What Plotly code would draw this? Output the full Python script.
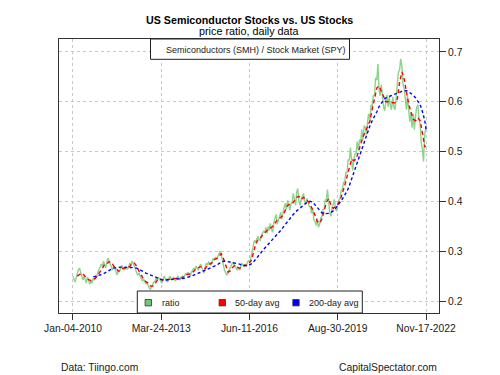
import pandas as pd
import plotly.graph_objects as go

# ---------------- data ----------------
ratio_2010 = [.250, .244, .238, .246, .256, .262, .266, .258, .248, .242, .250, .244,
              .236, .248, .242, .234, .240, .236, .246, .242, .252, .248, .258, .262]
ratio_2011 = [.268, .274, .270, .280, .272, .266, .278, .286, .280, .276, .268, .262,
              .272, .266, .258, .252, .262, .258, .266, .272, .266, .262, .268, .264]
ratio_2012 = [.264, .270, .276, .272, .280, .276, .270, .266, .258, .252, .256, .250,
              .246, .240, .244, .238, .234, .238, .230, .226, .224, .230, .234, .238]
ratio_2013 = [.240, .246, .242, .248, .244, .240, .236, .242, .250, .246, .242, .238,
              .244, .250, .246, .242, .248, .244, .240, .246, .250, .246, .242, .248]
ratio_2014 = [.250, .246, .252, .256, .252, .258, .254, .250, .258, .262, .266, .262,
              .270, .266, .262, .270, .274, .268, .262, .256, .270, .276, .272, .278]
ratio_2015 = [.276, .272, .280, .286, .282, .288, .284, .290, .296, .300, .292, .282,
              .272, .262, .256, .252, .258, .262, .266, .272, .278, .274, .270, .266]
ratio_2016 = [.262, .268, .262, .270, .276, .272, .268, .274, .270, .278, .282, .276,
              .290, .302, .312, .322, .318, .326, .330, .324, .322, .332, .336, .340]
ratio_2017 = [.338, .348, .336, .350, .342, .356, .344, .338, .358, .368, .374, .354,
              .364, .372, .378, .364, .380, .388, .396, .384, .402, .390, .382, .396]
ratio_2018 = [.398, .416, .400, .392, .418, .426, .400, .392, .404, .412, .416, .400,
              .394, .406, .396, .390, .388, .376, .386, .364, .360, .352, .366, .348]
ratio_2019 = [.354, .366, .370, .384, .384, .402, .404, .424, .400, .378, .370, .388,
              .394, .404, .386, .380, .398, .404, .408, .422, .424, .438, .440, .458]
ratio_2020 = [.458, .484, .482, .508, .478, .462, .484, .496, .496, .520, .502, .524,
              .520, .544, .524, .552, .548, .534, .562, .576, .560, .594, .590, .612]
ratio_2021 = [.614, .648, .644, .676, .626, .612, .634, .606, .590, .582, .606, .614,
              .590, .610, .592, .584, .610, .590, .584, .612, .630, .660, .664, .686]
ratio_2022 = [.670, .634, .626, .604, .584, .612, .578, .560, .580, .548, .576, .544,
              .572, .588, .594, .566, .552, .518, .504, .480, .536, .550]

avg50_2010 = [.250, .254, .256, .252, .246, .243, .241, .243, .246, .252]   # Mar..Dec
avg50_2011 = [.258, .266, .274, .275, .279, .278, .270, .266, .260, .262, .266, .266]
avg50_2012 = [.266, .270, .275, .276, .270, .260, .251, .244, .239, .236, .230, .230]
avg50_2013 = [.235, .242, .245, .242, .243, .244, .243, .245, .245, .245, .245, .246]
avg50_2014 = [.247, .250, .253, .254, .255, .260, .265, .267, .269, .266, .265, .272]
avg50_2015 = [.275, .277, .283, .285, .290, .295, .285, .270, .258, .261, .268, .272]
avg50_2016 = [.268, .266, .268, .272, .272, .276, .280, .296, .314, .323, .326, .332]
avg50_2017 = [.337, .342, .346, .348, .352, .360, .364, .368, .372, .382, .392, .394]
avg50_2018 = [.395, .402, .408, .410, .404, .408, .404, .400, .393, .384, .372, .360]
avg50_2019 = [.356, .365, .380, .398, .406, .392, .386, .390, .394, .402, .416, .432]
avg50_2020 = [.450, .470, .485, .482, .485, .500, .515, .530, .540, .552, .562, .585]
avg50_2021 = [.605, .628, .632, .620, .608, .600, .600, .600, .598, .598, .606, .640]
avg50_2022 = [.660, .645, .620, .595, .580, .565, .562, .568, .562, .535, .510, .510]  # Jan..Nov + end

avg200_2010 = [.249, .249, .251]   # Oct..Dec
avg200_2011 = [.252, .254, .256, .259, .262, .264, .266, .267, .268, .268, .268, .268]
avg200_2012 = [.268, .268, .268, .267, .266, .264, .262, .259, .256, .254, .252, .250]
avg200_2013 = [.248, .246, .244, .243, .242, .242, .242, .243, .244, .244, .244, .245]
avg200_2014 = [.245, .246, .247, .248, .250, .252, .254, .256, .258, .260, .261, .263]
avg200_2015 = [.265, .267, .270, .272, .275, .278, .280, .280, .279, .278, .278, .277]
avg200_2016 = [.276, .274, .272, .271, .271, .272, .274, .278, .283, .289, .295, .301]
avg200_2017 = [.306, .311, .316, .321, .326, .331, .336, .342, .348, .354, .360, .366]
avg200_2018 = [.372, .377, .381, .385, .389, .393, .397, .400, .400, .398, .393, .387]
avg200_2019 = [.381, .377, .375, .375, .376, .378, .381, .386, .392, .398, .405, .413]
avg200_2020 = [.420, .432, .445, .458, .470, .485, .500, .515, .528, .540, .552, .562]
avg200_2021 = [.570, .580, .590, .598, .604, .608, .610, .612, .614, .615, .617, .619]
avg200_2022 = [.621, .622, .622, .620, .617, .613, .608, .602, .594, .580, .562, .545]

tick_dates = ["2010-01-04", "2013-03-24", "2016-06-11", "2019-08-30", "2022-11-17"]
tick_labels = ["Jan-04-2010", "Mar-24-2013", "Jun-11-2016", "Aug-30-2019", "Nov-17-2022"]
y_ticks = [0.2, 0.3, 0.4, 0.5, 0.6, 0.7]

# ---------------- assemble series ----------------
ratio = (ratio_2010 + ratio_2011 + ratio_2012 + ratio_2013 + ratio_2014 + ratio_2015 +
         ratio_2016 + ratio_2017 + ratio_2018 + ratio_2019 + ratio_2020 + ratio_2021 + ratio_2022)
avg50 = (avg50_2010 + avg50_2011 + avg50_2012 + avg50_2013 + avg50_2014 + avg50_2015 +
         avg50_2016 + avg50_2017 + avg50_2018 + avg50_2019 + avg50_2020 + avg50_2021 + avg50_2022)
avg200 = (avg200_2010 + avg200_2011 + avg200_2012 + avg200_2013 + avg200_2014 + avg200_2015 +
          avg200_2016 + avg200_2017 + avg200_2018 + avg200_2019 + avg200_2020 + avg200_2021 + avg200_2022)

end_date = pd.Timestamp("2022-11-18")
ratio_dates = list(pd.date_range("2010-01-01", "2022-11-15", freq="SMS"))
ratio_dates[0] = pd.Timestamp("2010-01-04")
ratio_dates[-1] = end_date
avg50_dates = list(pd.date_range("2010-03-01", "2022-11-01", freq="MS")) + [end_date]
avg200_dates = list(pd.date_range("2010-10-01", "2022-11-01", freq="MS")) + [end_date]

n = min(len(ratio_dates), len(ratio)); ratio_dates, ratio = ratio_dates[:n], ratio[:n]
n = min(len(avg50_dates), len(avg50)); avg50_dates, avg50 = avg50_dates[:n], avg50[:n]
n = min(len(avg200_dates), len(avg200)); avg200_dates, avg200 = avg200_dates[:n], avg200[:n]

FONT = "Liberation Sans, Arial, sans-serif"
TXT = "#1a1a1a"

fig = go.Figure()
fig.add_trace(go.Scatter(x=ratio_dates, y=ratio, mode="lines", name="ratio",
                         line=dict(color="rgba(110,200,110,0.8)", width=1.4), showlegend=False))
fig.add_trace(go.Scatter(x=avg50_dates, y=avg50, mode="lines", name="50-day avg",
                         line=dict(color="#ff0000", width=1.4, dash="4px,3px"), showlegend=False))
fig.add_trace(go.Scatter(x=avg200_dates, y=avg200, mode="lines", name="200-day avg",
                         line=dict(color="#0000ff", width=1.4, dash="3px,2.5px"), showlegend=False))

fig.update_layout(
    width=500, height=375,
    margin=dict(l=59, r=61, t=39, b=62),
    paper_bgcolor="white", plot_bgcolor="white",
    font=dict(family=FONT, size=10.3, color=TXT),
    xaxis=dict(
        range=["2009-07-02", "2023-05-09"],
        tickvals=tick_dates, ticktext=tick_labels,
        ticks="outside", ticklen=6, tickcolor="#333", tickwidth=1,
        showline=True, linecolor="#333", linewidth=1, mirror=True,
        showgrid=True, gridcolor="#c8c8c8", griddash="dot", gridwidth=1,
        zeroline=False, tickfont=dict(size=10.3, color=TXT),
    ),
    yaxis=dict(
        range=[0.176, 0.726], side="right",
        tickvals=y_ticks, ticktext=[f"{v:.1f}" for v in y_ticks],
        ticks="outside", ticklen=6, tickcolor="#333", tickwidth=1,
        showline=True, linecolor="#333", linewidth=1, mirror=True,
        showgrid=True, gridcolor="#c8c8c8", griddash="dot", gridwidth=1,
        zeroline=False, tickfont=dict(size=10.3, color=TXT),
    ),
)

def py(px):   # pixel y -> paper y
    return (313 - px) / 274.0

def pxx(px):  # pixel x -> paper x
    return (px - 59) / 380.0

shapes = []
annotations = []

# titles
annotations.append(dict(text="<b>US Semiconductor Stocks vs. US Stocks</b>", xref="paper", yref="paper",
                        x=pxx(249), y=py(20), xanchor="center", yanchor="middle", showarrow=False,
                        font=dict(size=10.7, color="#000", family=FONT)))
annotations.append(dict(text="price ratio, daily data", xref="paper", yref="paper",
                        x=pxx(249), y=py(31.5), xanchor="center", yanchor="middle", showarrow=False,
                        font=dict(size=10.8, color="#000", family=FONT)))

# top legend box
shapes.append(dict(type="rect", xref="paper", yref="paper", x0=pxx(150.5), x1=pxx(349.5),
                   y0=py(59.3), y1=1.0, line=dict(color="#222", width=1), fillcolor="white", layer="above"))
annotations.append(dict(text="Semiconductors (SMH) / Stock Market (SPY)", xref="paper", yref="paper",
                        x=pxx(256), y=py(50), xanchor="center", yanchor="middle", showarrow=False,
                        font=dict(size=9, color=TXT, family=FONT)))

# bottom legend box
shapes.append(dict(type="rect", xref="paper", yref="paper", x0=pxx(137.3), x1=pxx(362.3),
                   y0=0.0, y1=py(291), line=dict(color="#222", width=1), fillcolor="white", layer="above"))
legend_items = [("ratio", "#6fc86f", 148.3, 160), ("50-day avg", "#ff0000", 222.3, 233.3),
                ("200-day avg", "#0000ff", 296.0, 306.7)]
for label, col, sx, tx in legend_items:
    shapes.append(dict(type="rect", xref="paper", yref="paper",
                       x0=pxx(sx - 3.2), x1=pxx(sx + 3.2), y0=py(302.7 + 3.2), y1=py(302.7 - 3.2),
                       line=dict(color="#333", width=0.8), fillcolor=col, layer="above"))
    annotations.append(dict(text=label, xref="paper", yref="paper", x=pxx(tx), y=py(302.7),
                            xanchor="left", yanchor="middle", showarrow=False,
                            font=dict(size=9, color=TXT, family=FONT)))

# footer
annotations.append(dict(text="Data: Tiingo.com", xref="paper", yref="paper", x=pxx(59), y=py(367),
                        xanchor="left", yanchor="middle", showarrow=False,
                        font=dict(size=10.3, color=TXT, family=FONT)))
annotations.append(dict(text="CapitalSpectator.com", xref="paper", yref="paper", x=pxx(439), y=py(367),
                        xanchor="right", yanchor="middle", showarrow=False,
                        font=dict(size=10.3, color=TXT, family=FONT)))

fig.update_layout(shapes=shapes, annotations=annotations)
fig.write_html("out.html", config={"displayModeBar": False},
               post_script="document.body.style.margin='0px';document.body.style.overflow='hidden';")
